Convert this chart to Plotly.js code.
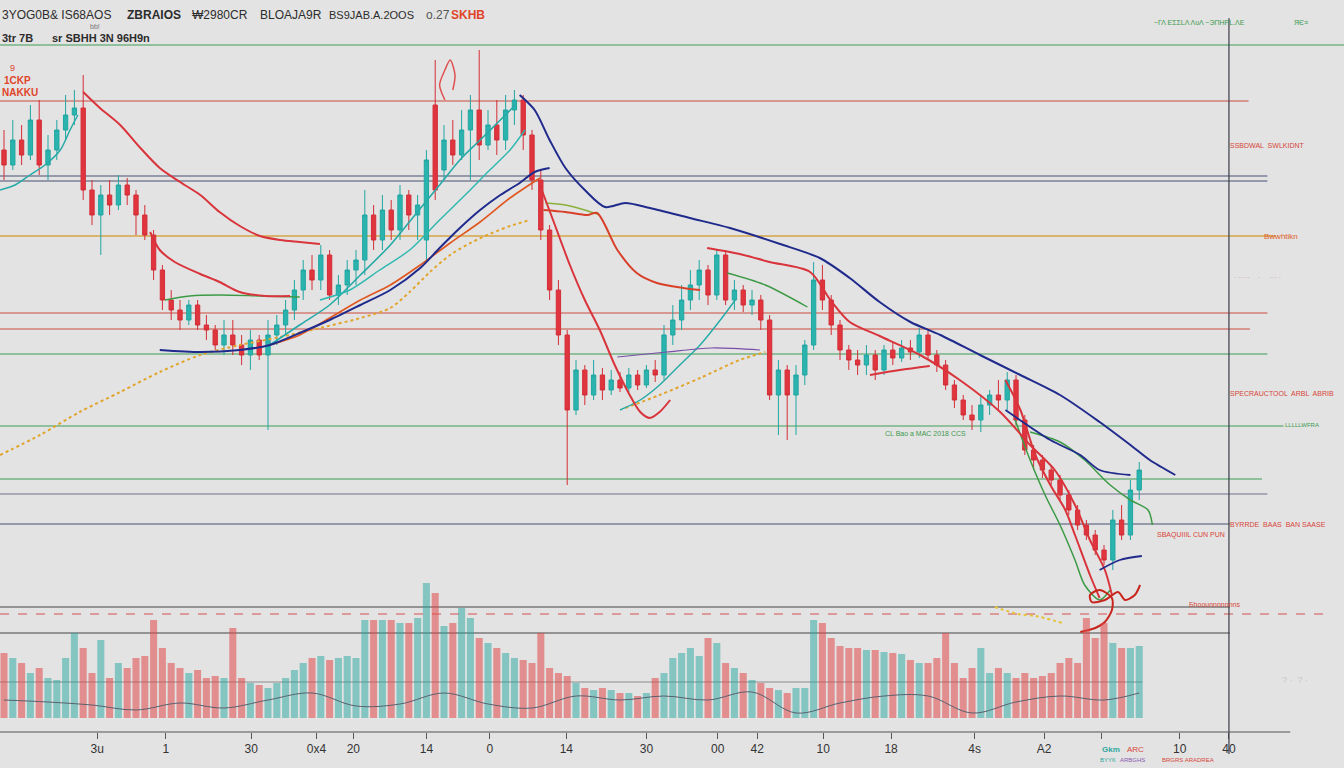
<!DOCTYPE html>
<html>
<head>
<meta charset="utf-8">
<script src="https://cdn.plot.ly/plotly-3.0.1.min.js"></script>
<style>
  html, body { margin: 0; padding: 0; background: #e3e3e3; }
  #chart { width: 1344px; height: 768px; }
</style>
</head>
<body>
<div id="chart"></div>
<script>
// ---- price candles (one per session) ----
const opens = [65,63.5,66,64.5,68,63.5,65,67,68.5,69.2,61,58.5,60.5,59.5,61.5,60.5,58.5,56.5,53,50,
  49,48,49.5,47.5,47,45.5,46.5,45.5,44.5,46,44.5,46.5,47.5,49,51,53,52,54.5,50.5,51.5,
  53,54,58.5,56,59,57,60.5,58.5,56,69.5,63,66,64.5,67,69,65.5,67.5,66,69,70,
  66.5,62,57,51,46.5,39,43,40.5,42.5,41,42,41.2,42.5,41.5,43,42.5,46.5,48,50,51.5,
  53,50.5,54.5,50,51,49.5,50,48,40.5,43,40.5,42.5,45.5,52,50,47.5,45,44,43.5,44.5,
  43,45,44.2,45.2,44.8,46.5,44.5,43.5,41.5,40,38.5,38,39.5,40.5,40,42,38,35,34,33,
  32,30.5,29,27.5,26.5,25,24,28,26.5,31];
const highs = [67,68,67.5,69.5,70,66.5,68,70.5,71,72.5,62,61.5,62,62.5,62.2,61,59.5,57,53.5,51,
  50,50,50,48.5,47.5,48,48,46.5,47,46.5,48,48.5,50,52,54,54.5,55.5,55,52.5,54,
  55,61,59.5,60.5,60,61.5,61,60.5,65,74,67.5,68,69,70.5,75,69,70,70.5,71,70.5,
  67,63,57.5,52,47,44,43.5,44,43.2,43,42.8,43.2,43,43.5,44,47.5,49.5,51.5,53,54,
  53.5,55,55,52,51.5,51,50.5,48.5,44,43.5,43.5,46,53.8,53.5,50.5,48,45.5,45,45.5,45,
  45.5,45.8,46,46,47.2,47,45,44,42,40.5,39.5,40.5,41,42,42.8,42.5,38.5,35.5,34.5,33.5,
  32.5,31,29.5,28,27,25.5,29,29.5,32,33.8];
const lows = [62,63,63.5,64,62.5,62,64,66,67.5,60,57.5,54.5,58.5,59,59.5,56.5,56,52,49,48,
  47,47.5,47,46,45,44.5,44.5,43.5,43,44,37,45.5,46.5,48,50,51,51,50,49.5,50.5,
  51.5,52.5,55,55,56,56,57,56,54,60,62,63.5,64,62,64,65,64.5,65,67.5,65,
  61,56,50,45.5,31.5,38.5,39.5,40,40,40.5,40.8,40.8,41,41.2,41.8,42,45.5,47,49,50,
  49.5,50,49.5,49,48.8,48.5,47,40,36.5,36,36.5,41.5,45,49,46.5,44,43,42.5,42.5,42,
  42.5,43.5,43.8,44,44.2,44,42.8,41,39.2,38,37,36.8,38.5,39,39,37.5,34.5,33,32.2,31.5,
  30,28.5,27,26,24.5,23.5,23,26,26,30];
const closes = [63.5,66,64.5,68,63.5,65,67,68.5,69.2,61,58.5,60.5,59.5,61.5,60.5,58.5,56.5,53,50,49,
  48,49.5,47.5,47,45.5,46.5,45.5,44.5,46,44.5,46.5,47.5,49,51,53,52,54.5,50.5,51.5,53,
  54,58.5,56,59,57,60.5,58.5,59.5,64,61,66,64.5,67,69,65.5,67.5,66,69,70,66.5,
  62,57,51,46.5,39,43,40.5,42.5,41,42,41.2,42.5,41.5,43,42.5,46.5,48,50,51.5,53,
  50.5,54.5,50,51,49.5,50,48,40.5,43,40.5,42.5,45.5,52,50,47.5,45,44,43.5,44.5,43,
  45,44.2,45.2,44.8,46.5,44.5,43.5,41.5,40,38.5,38,39.5,40.5,40,42,38,35,34,33,32,
  30.5,29,27.5,26.5,25,24,28,26.5,31,33];

// ---- traded volume per session ----
const volumes = [65,60,55,45,50,40,38,60,85,70,45,78,40,55,50,60,62,98,70,55,
  50,45,48,40,42,40,90,40,35,33,30,35,40,48,55,60,62,58,60,62,
  60,98,98,98,98,95,95,100,135,125,92,95,110,100,80,75,70,65,60,58,
  55,85,50,45,42,35,30,28,30,28,25,25,22,25,40,45,60,65,70,62,
  80,75,55,50,45,38,35,30,28,25,30,30,98,95,80,72,70,70,68,68,
  66,65,64,58,55,55,60,85,55,40,50,70,45,50,45,40,45,40,42,45,
  55,60,55,100,80,95,75,70,70,72];
const volAvgSessions = [0,5,10,15,20,25,30,35,40,45,50,55,60,65,70,75,80,85,90,95,100,105,110,115,120,125,129];
const volAvgValues = [18,16,13,8,15,10,18,25,12,14,25,14,10,22,18,22,18,26,5,15,22,22,5,16,22,18,25];

// ---- indicator curves (session, price) ----
const redA_x = [9.0,10.9,13.2,15.5,17.7,20,22.3,24.5,26.8,29.1,31.4,33.6,35.9];
const redA_y = [70.8,69.2,67.5,65.2,63.2,61.8,60.5,58.8,57.4,56.4,56,55.8,55.6];
const redB_x = [16.6,17.7,19.4,22.3,24.5,26.8,29.7,32.5];
const redB_y = [56.8,55,53.8,52.6,51.8,50.8,50.4,50.4];
const riseA_x = [30.2,33.6,37,40.5,43.9,47.3,50.7,54.1,57.5,60.9];
const riseA_y = [45.5,46.5,48.2,50,51.5,53.5,55.7,57.8,60.2,62.2];
const redC_x = [60.9,62.6,64.3,66,67.7,69.4,71.1,72.3,73.4,74.5,75.7];
const redC_y = [61.5,57.5,53.5,50,47,43.5,40.5,38.8,38.2,38.8,40];
const redD_x = [61.3,63.8,66.3,67.4,69.7,71.9,74.2,77.2,79.1];
const redD_y = [59,58.8,58.5,58.7,55,52.7,51.7,51.2,51];
const redE_x = [79.9,83.6,87,91.6,93.9,96.1,99.5,104.1,108.6,113.2,116.6,119.4,121.7,123.4,125.1,125.9];
const redE_y = [55.2,54.6,53.8,52.8,50,47.8,46.4,44.5,42,38.8,35.5,33,29.5,26,23,20.5];
const redF_x = [98.4,101.8,105.2];
const redF_y = [42.5,43,43.4];
const redG_x = [113.8,115.5,117.2,118.9,120.6,121.7,123.4,124.5];
const redG_y = [42,39,34.5,31.5,29,26.5,22.5,20.2];
const navyA_x = [17.7,22.3,26.8,30.2,33.6,37,40.5,43.9,47.3,49.5,51.8,54.1,56.4,58.6,60.3,62];
const navyA_y = [45,44.8,45,45.5,46.7,48,49.5,51,53.2,55.2,57.2,59,60.5,61.7,62.8,63.2];
const navyB_x = [58.6,60.3,62,63.8,66,68.3,70.6,73.4,77.95,82.5,88.2,92.7,96.1,99.5,103,106.4,110.9,115.5,120,124.5,128,130.2,133.1];
const navyB_y = [70.5,69,66,63.2,61,59.3,59.7,59.2,58.2,57.2,55.6,54.2,52.2,49.8,47.8,46.5,44.5,42.5,40.5,37.8,35.5,34,32.5];
const navyC_x = [113.8,118.9,122.3,124.5,128];
const navyC_y = [39,36,34.5,33,32.5];
const navyD_x = [124.5,126.8,129.3];
const navyD_y = [23,24,24.4];
const tealA_x = [30.2,33.6,37,40.5,43.9,46.7,49.5,51.8,54.1,56.4,58.1];
const tealA_y = [45.5,47.5,49.5,52.5,55.5,58.5,61.5,64,66,68,69.5];
const tealB_x = [35.9,39.3,42.7,46.1,49.5,52.4,55.2,57.5,59.2];
const tealB_y = [50,51,53,55,58,60.5,63,65,67];
const tealC_x = [-0.45,1.25,2.95,4.66,6.4,7.5,8.4];
const tealC_y = [61,61.5,62.5,63.5,65,67,68.5];
const tealD_x = [70,72.3,74.5,76.8,79.1,81.4,83.1];
const tealD_y = [39,40,41.5,43.5,45.5,48,50];
const greenA_x = [18.3,21.1,24.5,29.1,33.6];
const greenA_y = [50,50.4,50.5,50.4,50.3];
const greenB_x = [61.5,63.8,66,67.7];
const greenB_y = [59.7,59.5,59,58.5];
const greenC_x = [82.2,86.5,91.3];
const greenC_y = [52.7,51.5,49.3];
const greenD_x = [116.6,120,122.8,125.7,128,130,130.5];
const greenD_y = [36.8,35.8,34,31.5,30,29,27.5];
const greenE_x = [114.9,116.6,118.3,120,121.7,122.8,124.5,125.7];
const greenE_y = [38,34,30.5,27.5,24,21.5,20,21];
const purpleA_x = [69.7,75.3,80.4,85.9];
const purpleA_y = [44.3,44.8,45.2,45];
const dotA_x = [-0.45,4.1,8.6,13.2,17.7,22.3,26.8,31.4,35.9,40.5,43.9,46.1,48.4,50.7,53,55.2,57.5,59.8];
const dotA_y = [34.5,36.5,38.8,40.8,42.8,44.5,45.5,46.3,47.2,48.2,49.2,50.8,52.8,54.5,55.7,56.6,57.4,58];
const dotB_x = [70.6,74.5,79.1,83.6,86.5];
const dotB_y = [39.2,40.5,42.2,44,44.8];
const dotC_x = [112.6,115.2,117.2,120.3];
const dotC_y = [19.3,18.6,18.4,17.7];
const loopTop_x = [50.1,49.5,50.1,50.7,51.25,51.0];
const loopTop_y = [70,71.5,73,74,72.5,71];
const loopLow_x = [122.3,124,125.1,125.9,125.9,124.5,123.4,123.6,125.1,126.6,127.4,128.5,129.1];
const loopLow_y = [16.8,17.2,17.8,19,20.2,21,20.5,19.8,20,20.8,20,20.5,21.5];

// ---- horizontal levels ----
const levelPrices = [75.5,69.9,62.4,61.9,56.4,48.7,47.1,44.6,37.4,32.1,30.6,27.6,19.3,18.6,16.7,11.8];

// ---- axis labels ----
const tickSessions = [10.6,18.4,28.1,35.5,39.7,48,55.2,63.9,73,81.1,85.6,93.1,100.8,110.3,118.2,124.7,133.6,139.2];
const tickLabels = ['3u','1','30','0x4','20','14','0','14','30','00','42','10','18','4s','A2','','10','40'];

const sessions = closes.map((_, i) => i);

const TEAL = '#25aaa7', RED = '#d9343c', NAVY = '#1f2a8c', GREEN = '#3c9a45', ORANGE = '#e2a42a';

function curve(x, y, color, width, dash) {
  return { type: 'scatter', mode: 'lines', x: x, y: y, hoverinfo: 'skip', showlegend: false,
    line: { color: color, width: width, dash: dash || 'solid', shape: 'spline', smoothing: 0.8 } };
}

const volColors = sessions.map(i => closes[i] >= opens[i] ? 'rgba(38,168,162,0.5)' : 'rgba(226,72,72,0.55)');

const traces = [
  { type: 'bar', x: sessions, y: volumes, yaxis: 'y2', width: 0.8, showlegend: false,
    marker: { color: volColors, line: { width: 0 } }, hoverinfo: 'skip' },
  { type: 'scatter', mode: 'lines', x: volAvgSessions, y: volAvgValues, yaxis: 'y2', showlegend: false,
    line: { color: '#5a6070', width: 1, shape: 'spline' }, hoverinfo: 'skip' },
  curve(dotA_x, dotA_y, ORANGE, 2, 'dot'),
  curve(dotB_x, dotB_y, ORANGE, 2, 'dot'),
  curve(dotC_x, dotC_y, '#e6c23a', 2, 'dot'),
  curve(tealC_x, tealC_y, TEAL, 1.5),
  curve(tealA_x, tealA_y, TEAL, 1.6),
  curve(tealB_x, tealB_y, '#2cb8b0', 1.4),
  curve(tealD_x, tealD_y, TEAL, 1.4),
  curve(greenA_x, greenA_y, GREEN, 1.4),
  curve(greenB_x, greenB_y, '#8ab03a', 1.4),
  curve(greenC_x, greenC_y, GREEN, 1.4),
  curve(greenD_x, greenD_y, GREEN, 1.5),
  curve(greenE_x, greenE_y, GREEN, 1.5),
  curve(purpleA_x, purpleA_y, '#7a4ea8', 1.2),
  curve(riseA_x, riseA_y, '#e0561e', 1.6),
  {
    type: 'candlestick', x: sessions, open: opens, high: highs, low: lows, close: closes,
    whiskerwidth: 0, showlegend: false, hoverinfo: 'skip',
    increasing: { line: { color: '#20a6a2', width: 1 }, fillcolor: '#2bb4ae' },
    decreasing: { line: { color: '#d42e37', width: 1 }, fillcolor: '#e0353e' }
  },
  curve(redA_x, redA_y, RED, 2),
  curve(redB_x, redB_y, RED, 2),
  curve(redC_x, redC_y, RED, 2),
  curve(redD_x, redD_y, '#d8402a', 2),
  curve(redE_x, redE_y, RED, 2),
  curve(redF_x, redF_y, RED, 2),
  curve(redG_x, redG_y, RED, 2),
  curve(navyA_x, navyA_y, NAVY, 2),
  curve(navyB_x, navyB_y, NAVY, 2),
  curve(navyC_x, navyC_y, NAVY, 1.8),
  curve(navyD_x, navyD_y, NAVY, 1.8),
  curve(loopTop_x, loopTop_y, '#e05050', 1.5),
  curve(loopLow_x, loopLow_y, '#c8261c', 2)
];

// level line styling, same order as levelPrices
const levelStyle = [
  { color: '#3f9c55', end: 1.0, width: 1 },
  { color: '#cc4a3e', end: 0.929, width: 1.2 },
  { color: '#4b5070', end: 0.943, width: 1.2 },
  { color: '#4b5070', end: 0.943, width: 1.2 },
  { color: '#d4a548', end: 0.949, width: 1.5 },
  { color: '#cc4a3e', end: 0.943, width: 1 },
  { color: '#cc4a3e', end: 0.930, width: 1 },
  { color: '#3f9c55', end: 0.943, width: 1.2 },
  { color: '#3f9c55', end: 0.955, width: 1 },
  { color: '#3f9c55', end: 0.939, width: 1.2 },
  { color: '#6f6f8a', end: 0.943, width: 1 },
  { color: '#4b5070', end: 0.915, width: 1.2 },
  { color: '#7a7a7a', end: 0.915, width: 1.5 },
  { color: '#d65050', end: 0.99, width: 1, dash: 'dash' },
  { color: '#7a7a7a', end: 0.915, width: 1.5 },
  { color: '#8a8a8a', end: 0.85, width: 1 }
];

const shapes = levelPrices.map((p, i) => ({
  type: 'line', layer: 'below', xref: 'paper', yref: 'y', x0: 0, x1: levelStyle[i].end, y0: p, y1: p,
  line: { color: levelStyle[i].color, width: levelStyle[i].width, dash: levelStyle[i].dash || 'solid' }
}));
// right-hand divider and bottom axis rule
shapes.push({ type: 'line', xref: 'paper', yref: 'paper', x0: 0.9144, x1: 0.9144, y0: 0.975, y1: -0.03,
  line: { color: '#3a3d48', width: 1.2 } });
shapes.push({ type: 'line', xref: 'paper', yref: 'paper', x0: 0, x1: 0.96, y0: 0, y1: 0,
  line: { color: '#555', width: 1.2 } });

const NARROW = 'Liberation Sans Narrow, Liberation Sans, sans-serif';
function note(text, px, py, color, size, bold) {
  return { text: bold ? '<b>' + text + '</b>' : text, xref: 'paper', yref: 'paper',
    x: px / 1344, y: 1 - py / 732, xanchor: 'left', yanchor: 'middle', showarrow: false,
    font: { family: NARROW, size: size, color: color } };
}

const annotations = [
  note('3YOG0B& IS68AOS', 0, 15, '#2c2c2c', 12),
  note('ZBRAIOS', 125, 15, '#2c2c2c', 12, true),
  note('₩2980CR', 190, 15, '#2c2c2c', 12),
  note('BLOAJA9R', 258, 15, '#2c2c2c', 12),
  note('BS9JAB.A.2OOS', 327, 15, '#2c2c2c', 11),
  note('o.27', 424, 15, '#555', 12),
  note('SKHB', 449, 15, '#e0452a', 12, true),
  note('bb!', 88, 27, '#777', 7),
  note('3tr 7B', 0, 38, '#2c2c2c', 11, true),
  note('sr SBHH 3N 96H9n', 50, 38, '#2c2c2c', 11, true),
  note('9', 8, 68, '#e0452a', 9),
  note('1CKP', 2, 80, '#e0452a', 10, true),
  note('NAKKU', 0, 92, '#e0452a', 10, true),
  note('~ΓΛ ΕΣΣLΛ ΛυΛ ~ЭΠΗΡL.ΛΕ', 1152, 22, '#3c9a50', 7),
  note('ЯЄ≡', 1292, 22, '#3c9a50', 7),
  note('SSBDWAL  SWLKIDNT', 1228, 145, '#d8453a', 7),
  note('Bwwhtikn', 1262, 236, '#e0602a', 8),
  note('· ·····    ·     ··· ·', 1232, 277, '#c9a0a0', 7),
  note('SPECRAUCTOOL  ARBL  ABRIB', 1228, 393, '#d8453a', 7),
  note('LLLLLWFRA', 1283, 425, '#3c9a50', 6),
  note('CL Bao a MAC 2018 CCS', 883, 433, '#3c9a50', 7),
  note('BYRRDE  BAAS  BAN SAASE', 1228, 524, '#d8453a', 7),
  note('SBAQUIIIL CUN PUN', 1155, 535, '#d8453a', 7),
  note('Бhoounnnnnnns', 1187, 604, '#d8453a', 7),
  note('? ·  ? ·', 1280, 680, '#c8c8c8', 9),
  note('Gkm', 1100, 749, '#30a8a0', 8, true),
  note('ARC', 1125, 749, '#d8453a', 8),
  note('BYYK', 1098, 760, '#30a8a0', 6),
  note('ARBGHS', 1118, 760, '#8a5ab0', 6),
  note('BRGRS ARADREA', 1160, 760, '#d8453a', 6)
];

const layout = {
  width: 1344, height: 768,
  margin: { l: 0, r: 0, t: 0, b: 36, pad: 0 },
  paper_bgcolor: '#e3e3e3', plot_bgcolor: '#e3e3e3',
  showlegend: false, dragmode: false, bargap: 0.1,
  xaxis: {
    range: [-0.4545, 152.27], showgrid: false, zeroline: false, showline: false,
    rangeslider: { visible: false }, tickmode: 'array', tickvals: tickSessions, ticktext: tickLabels,
    ticks: 'outside', ticklen: 6, tickcolor: '#555', tickwidth: 1,
    tickfont: { family: NARROW, size: 12, color: '#333' }
  },
  yaxis: { range: [6.8, 80], visible: false, fixedrange: true },
  yaxis2: { range: [-14, 718], overlaying: 'y', visible: false, fixedrange: true },
  shapes: shapes,
  annotations: annotations
};

Plotly.newPlot('chart', traces, layout, { staticPlot: true, displayModeBar: false });
</script>
</body>
</html>
